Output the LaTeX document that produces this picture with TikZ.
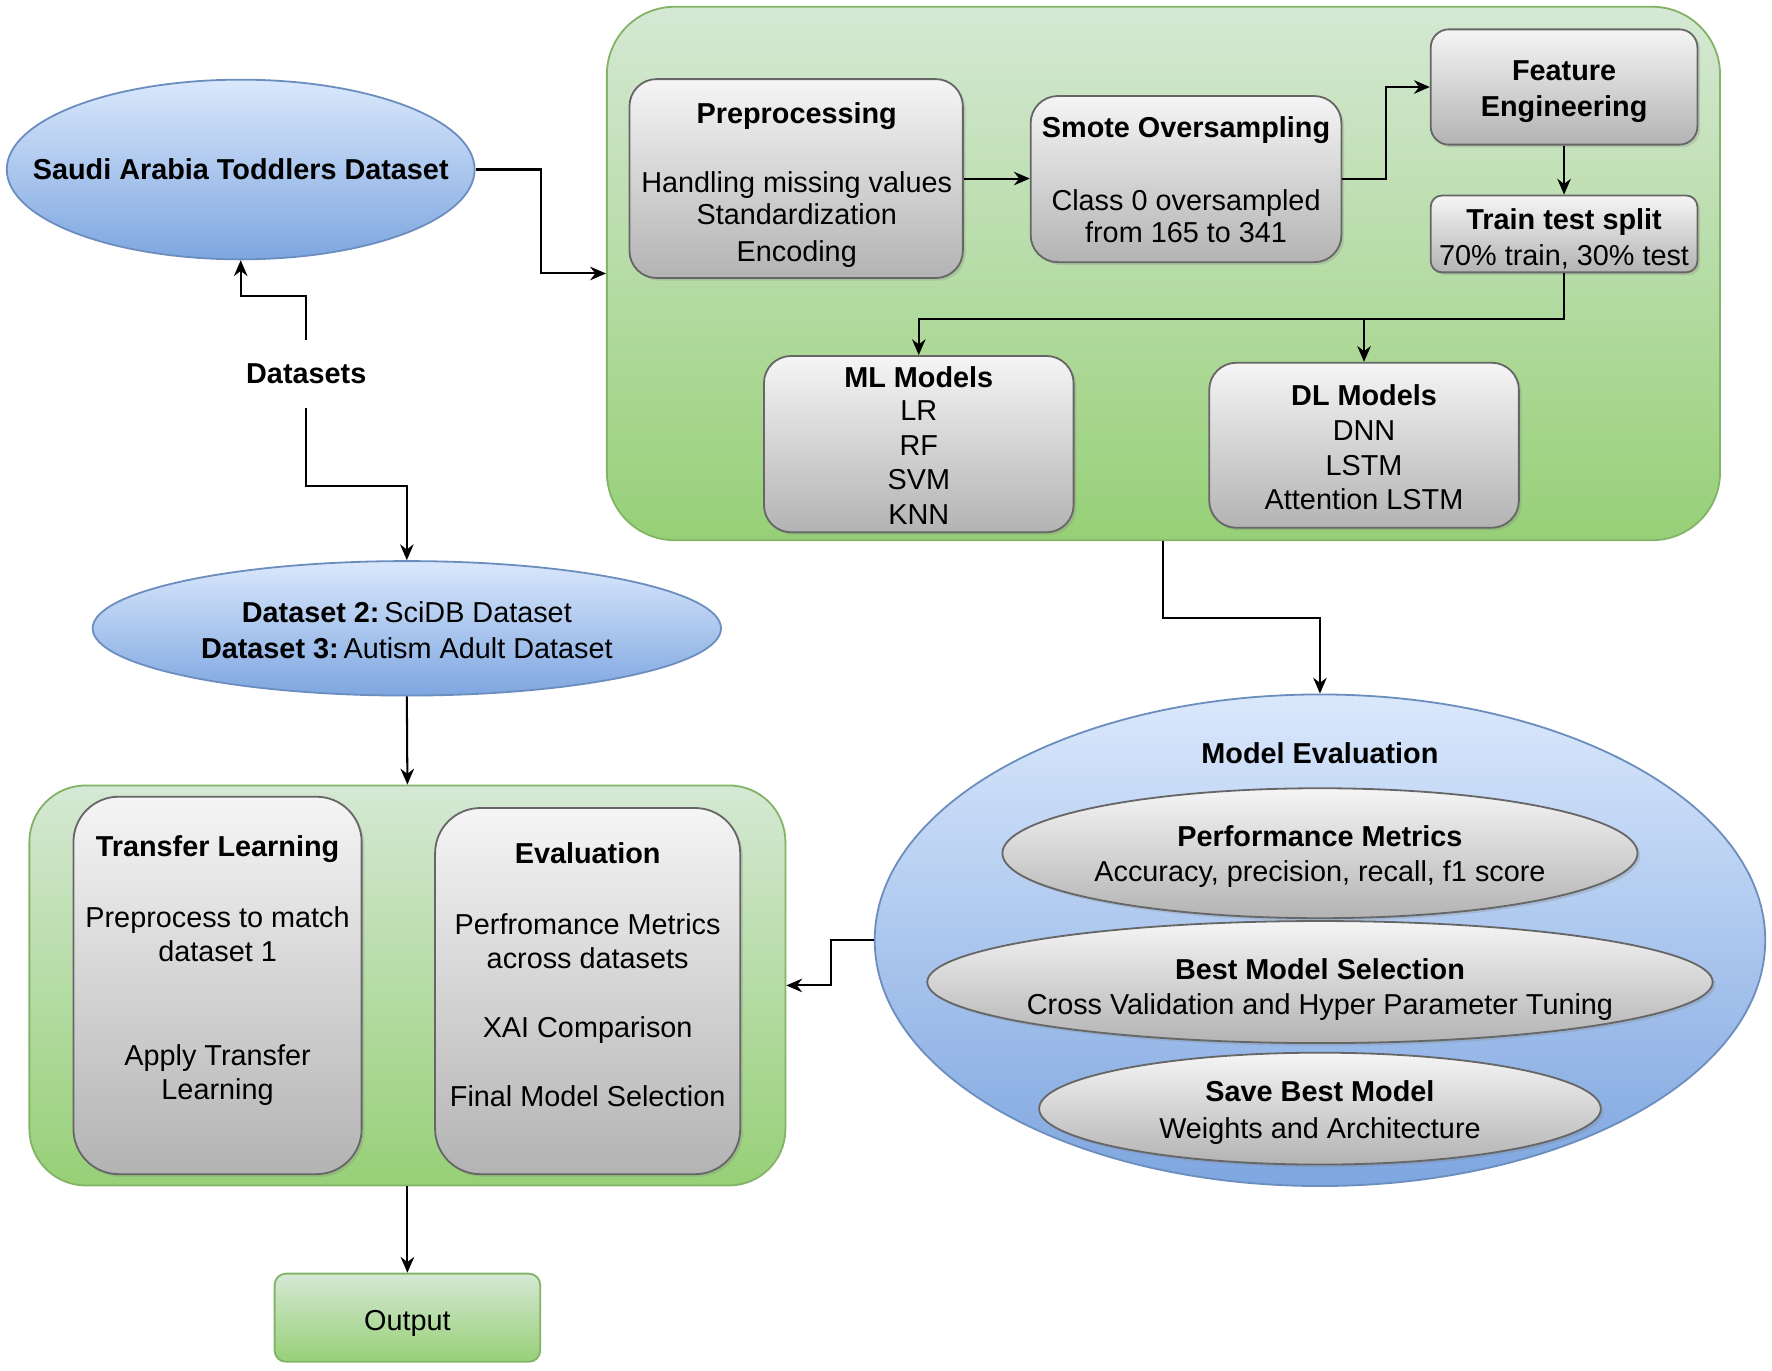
\documentclass[tikz,border=0pt]{standalone}
\usepackage{fontspec}
\setmainfont{Liberation Sans}
\usetikzlibrary{arrows.meta,shapes.geometric,fit,shadows}
\definecolor{bltop}{HTML}{DAE8FC}
\definecolor{blbot}{HTML}{7EA6E0}
\definecolor{blline}{HTML}{6C8EBF}
\definecolor{grtop}{HTML}{D5E8D4}
\definecolor{grbot}{HTML}{97D077}
\definecolor{grline}{HTML}{82B366}
\definecolor{gytop}{HTML}{F5F5F5}
\definecolor{gybot}{HTML}{B3B3B3}
\definecolor{gyline}{HTML}{666666}
\tikzset{
  blueell/.style={ellipse,draw=blline,line width=0.8pt,top color=bltop,bottom color=blbot,inner sep=0pt},
  grayell/.style={ellipse,draw=gyline,line width=0.8pt,top color=gytop,bottom color=gybot,inner sep=0pt,
    drop shadow={shadow xshift=1.2pt,shadow yshift=-1.2pt,opacity=0.25}},
  greenbox/.style={rectangle,draw=grline,line width=0.8pt,top color=grtop,bottom color=grbot,inner sep=0pt},
  graybox/.style={rectangle,draw=gyline,line width=0.8pt,top color=gytop,bottom color=gybot,inner sep=0pt,
    drop shadow={shadow xshift=1.2pt,shadow yshift=-1.2pt,opacity=0.25}},
  txt/.style={anchor=base,inner sep=0pt,font=\fontsize{12.75}{15}\selectfont},
  btxt/.style={txt,font=\fontsize{12.75}{15}\selectfont\bfseries},
  arr/.style={line width=0.9pt,-{Stealth[length=7pt,width=6pt]}},
}
\begin{document}
\begin{tikzpicture}[x=0.5pt,y=-0.5pt]
\useasboundingbox[fill=white] (0,0) rectangle (1568,1213);

% --- left top ellipse
\node[blueell,minimum width=207pt,minimum height=79.5pt] (e1) at (213,150) {};
\node[btxt] (e1t) at (213,159) {Saudi Arabia Toddlers Dataset};

% --- Datasets label
\node[btxt,anchor=center,inner xsep=2pt,inner ysep=10.5pt] (ds) at (271,331) {Datasets};

% --- second ellipse
\node[blueell,minimum width=278pt,minimum height=59.5pt] (e2) at (360,556) {};
\node[txt] (e2a) at (360,551) {\textbf{Dataset 2:}\,SciDB Dataset};
\node[txt] (e2b) at (360,583) {\textbf{Dataset 3:}\,Autism Adult Dataset};

% --- big green container
\node[greenbox,rounded corners=30pt,fit={(537,6) (1522,478)}] (big) {};

% preprocessing
\node[graybox,rounded corners=12pt,fit={(557,70) (852,246)}] (pre) {};
\node[btxt] (pret) at (705,109) {Preprocessing};
\node[txt] (pre1) at (705,170) {Handling missing values};
\node[txt] (pre2) at (705,199) {Standardization};
\node[txt] (pre3) at (705,231) {Encoding};

% smote
\node[graybox,rounded corners=12pt,fit={(912,85) (1187,232)}] (sm) {};
\node[btxt] (smt) at (1049.5,122) {Smote Oversampling};
\node[txt] (sm1) at (1049.5,186) {Class 0 oversampled};
\node[txt] (sm2) at (1049.5,215) {from 165 to 341};

% feature engineering
\node[graybox,rounded corners=8pt,fit={(1266,26) (1502,128)}] (fe) {};
\node[btxt] (fe1) at (1384,71) {Feature};
\node[btxt] (fe2) at (1384,103) {Engineering};

% train test split
\node[graybox,rounded corners=5pt,fit={(1266,173) (1502,241)}] (tts) {};
\node[btxt] (tts1) at (1384,203) {Train test split};
\node[txt] (tts2) at (1384,235) {70\% train, 30\% test};

% ML models
\node[graybox,rounded corners=12pt,fit={(676,315) (950,471)}] (ml) {};
\node[btxt] (mlt) at (813,343) {ML Models};
\node[txt] (ml1) at (813,372) {LR};
\node[txt] (ml2) at (813,403) {RF};
\node[txt] (ml3) at (813,433) {SVM};
\node[txt] (ml4) at (813,464) {KNN};

% DL models
\node[graybox,rounded corners=12pt,fit={(1070,321) (1344,467)}] (dl) {};
\node[btxt] (dlt) at (1207,359) {DL Models};
\node[txt] (dl1) at (1207,390) {DNN};
\node[txt] (dl2) at (1207,421) {LSTM};
\node[txt] (dl3) at (1207,451) {Attention LSTM};

% --- model evaluation
\node[blueell,minimum width=394pt,minimum height=217.5pt] (me) at (1168,832) {};
\node[btxt] (met) at (1168,676) {Model Evaluation};
\node[grayell,minimum width=281pt,minimum height=57.5pt] (pm) at (1168,755) {};
\node[btxt] (pm1) at (1168,749) {Performance Metrics};
\node[txt] (pm2) at (1168,780) {Accuracy, precision, recall, f1 score};
\node[grayell,minimum width=347.5pt,minimum height=54pt] (bms) at (1168,869) {};
\node[btxt] (bms1) at (1168,867) {Best Model Selection};
\node[txt] (bms2) at (1168,898) {Cross Validation and Hyper Parameter Tuning};
\node[grayell,minimum width=248.5pt,minimum height=49.5pt] (sbm) at (1168,981) {};
\node[btxt] (sbm1) at (1168,975) {Save Best Model};
\node[txt] (sbm2) at (1168,1007) {Weights and Architecture};

% --- lower-left container
\node[greenbox,rounded corners=25pt,fit={(26,695) (695,1049)}] (low) {};
\node[graybox,rounded corners=20pt,fit={(65,705) (320,1039)}] (tl) {};
\node[btxt] (tlt) at (192.5,758) {Transfer Learning};
\node[txt] (tl1) at (192.5,821) {Preprocess to match};
\node[txt] (tl2) at (192.5,851) {dataset 1};
\node[txt] (tl3) at (192.5,943) {Apply Transfer};
\node[txt] (tl4) at (192.5,973) {Learning};
\node[graybox,rounded corners=20pt,fit={(385,715) (655,1039)}] (ev) {};
\node[btxt] (evt) at (520,764) {Evaluation};
\node[txt] (ev1) at (520,827) {Perfromance Metrics};
\node[txt] (ev2) at (520,857) {across datasets};
\node[txt] (ev3) at (520,918) {XAI Comparison};
\node[txt] (ev4) at (520,979) {Final Model Selection};

% --- output
\node[greenbox,rounded corners=5pt,fit={(243,1127) (478,1205)}] (out) {};
\node[txt] (outt) at (360.5,1177) {Output};

% --- connectors
\draw[arr] (e1.east) -- (479,150) |- (big.west);
\draw[arr] (ds.north) -- (271,262) -| (e1.south);
\draw[arr] (ds.south) -- (271,430) -| (e2.north);
\draw[arr] (pre.east) -- (pre.east -| sm.west);
\draw[arr] (sm.east |- pre.east) -- (1226,158) |- (fe.west);
\draw[arr] (fe.south) -- (tts.north);
\draw[arr] (tts.south) -- (1384,282) -| (ml.north);
\draw[arr] (dl.north |- 0,282) -- (dl.north);
\draw[arr] (big.south) -- (1029.5,547) -| (me.north);
\draw[arr] (me.west) -- (735,832) |- (low.east);
\draw[arr] (e2.south) -- (low.north);
\draw[arr] (low.south) -- (out.north);
\end{tikzpicture}
\end{document}
